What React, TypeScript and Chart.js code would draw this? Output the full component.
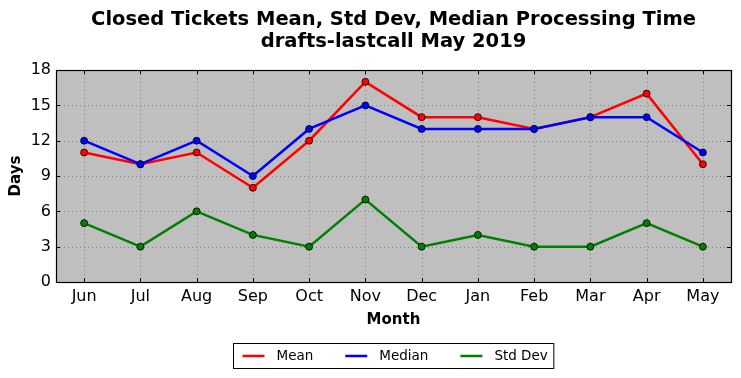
import React, { useEffect, useRef } from "react";
import { Chart, registerables } from "chart.js";

Chart.register(...registerables);

const months = ["Jun", "Jul", "Aug", "Sep", "Oct", "Nov", "Dec", "Jan", "Feb", "Mar", "Apr", "May"];
const meanDays = [11, 10, 11, 8, 12, 17, 14, 14, 13, 14, 16, 10];
const medianDays = [12, 10, 12, 9, 13, 15, 13, 13, 13, 14, 14, 11];
const stdDevDays = [5, 3, 6, 4, 3, 7, 3, 4, 3, 3, 5, 3];
const yTicks = [0, 3, 6, 9, 12, 15, 18];
const titleLines = ["Closed Tickets Mean, Std Dev, Median Processing Time", "drafts-lastcall May 2019"];
const seriesNames = ["Mean", "Median", "Std Dev"];
const seriesColors = ["#ff0000", "#0000ff", "#008000"];

const FONT = "'DejaVu Sans', 'Liberation Sans', sans-serif";

const framePlugin = {
  id: "frame",
  beforeDraw(chart: any) {
    const { ctx, chartArea } = chart;
    const { left, top, right, bottom } = chartArea;
    ctx.save();
    ctx.fillStyle = "#bfbfbf";
    ctx.fillRect(left, top, right - left, bottom - top);
    ctx.restore();
  },
  beforeDatasetsDraw(chart: any) {
    const { ctx, chartArea, scales } = chart;
    const { left, top, right, bottom } = chartArea;
    ctx.save();
    ctx.strokeStyle = "#808080";
    ctx.lineWidth = 1;
    ctx.setLineDash([1, 3]);
    months.forEach((_, i) => {
      const x = Math.round(scales.x.getPixelForValue(i)) + 0.5;
      ctx.beginPath();
      ctx.moveTo(x, top);
      ctx.lineTo(x, bottom);
      ctx.stroke();
    });
    yTicks.forEach((v) => {
      const y = Math.round(scales.y.getPixelForValue(v)) + 0.5;
      ctx.beginPath();
      ctx.moveTo(left, y);
      ctx.lineTo(right, y);
      ctx.stroke();
    });
    ctx.restore();
  },
  afterDraw(chart: any) {
    const { ctx, chartArea, scales } = chart;
    const { left, top, right, bottom } = chartArea;
    ctx.save();
    // inward tick marks
    ctx.strokeStyle = "#000";
    ctx.lineWidth = 1;
    ctx.setLineDash([]);
    const tl = 4;
    months.forEach((_, i) => {
      const x = Math.round(scales.x.getPixelForValue(i)) + 0.5;
      ctx.beginPath();
      ctx.moveTo(x, bottom);
      ctx.lineTo(x, bottom - tl);
      ctx.moveTo(x, top);
      ctx.lineTo(x, top + tl);
      ctx.stroke();
    });
    yTicks.forEach((v) => {
      const y = Math.round(scales.y.getPixelForValue(v)) + 0.5;
      ctx.beginPath();
      ctx.moveTo(left, y);
      ctx.lineTo(left + tl, y);
      ctx.moveTo(right, y);
      ctx.lineTo(right - tl, y);
      ctx.stroke();
    });
    // frame
    ctx.lineWidth = 1.2;
    ctx.strokeRect(Math.round(left) + 0.5, Math.round(top) + 0.5, Math.round(right - left), Math.round(bottom - top));

    // legend
    ctx.font = `13.5px ${FONT}`;
    const lineLen = 22;
    const gapAfterLine = 12;
    const gapBetween = 32;
    const padL = 9;
    const padR = 6;
    const widths = seriesNames.map((n) => ctx.measureText(n).width);
    let total = padL + padR;
    widths.forEach((w, i) => {
      total += lineLen + gapAfterLine + w + (i < widths.length - 1 ? gapBetween : 0);
    });
    const cx = (left + right) / 2;
    const bx = Math.round(cx - total / 2) + 0.5;
    const by = chart.height - 35 + 0.5;
    const bh = 25;
    ctx.fillStyle = "#fff";
    ctx.fillRect(bx, by, total, bh);
    ctx.strokeStyle = "#000";
    ctx.lineWidth = 1;
    ctx.strokeRect(bx, by, total, bh);
    let x = bx + padL;
    const cy = by + bh / 2;
    ctx.textBaseline = "middle";
    ctx.textAlign = "left";
    seriesNames.forEach((n, i) => {
      ctx.strokeStyle = seriesColors[i];
      ctx.lineWidth = 2.5;
      ctx.beginPath();
      ctx.moveTo(x, cy);
      ctx.lineTo(x + lineLen, cy);
      ctx.stroke();
      x += lineLen + gapAfterLine;
      ctx.fillStyle = "#000";
      ctx.fillText(n, x, cy + 0.5);
      x += widths[i] + gapBetween;
    });
    ctx.restore();
  },
};

export default function App() {
  const canvasRef = useRef<HTMLCanvasElement | null>(null);

  useEffect(() => {
    const canvas = canvasRef.current;
    if (!canvas) return;
    const mk = (label: string, data: number[], color: string, order: number) => ({
      label,
      data,
      borderColor: color,
      backgroundColor: color,
      pointBackgroundColor: color,
      pointBorderColor: "#000",
      pointBorderWidth: 0.8,
      pointRadius: 3.5,
      borderWidth: 2.5,
      tension: 0,
      fill: false,
      order,
    });
    const chart = new Chart(canvas, {
      type: "line",
      data: {
        labels: months,
        datasets: [
          mk(seriesNames[0], meanDays, seriesColors[0], 3),
          mk(seriesNames[1], medianDays, seriesColors[1], 2),
          mk(seriesNames[2], stdDevDays, seriesColors[2], 1),
        ],
      },
      options: {
        animation: false,
        responsive: false,
        maintainAspectRatio: false,
        layout: { padding: { left: 0, right: 10, top: 0, bottom: 45.6 } },
        plugins: {
          legend: { display: false },
          tooltip: { enabled: false },
          title: {
            display: true,
            fullSize: false,
            text: titleLines,
            color: "#000",
            font: { family: FONT, size: 19.5, weight: "bold", lineHeight: 1.13 },
            padding: { top: 9, bottom: 17 },
          },
        },
        scales: {
          x: {
            type: "category",
            offset: true,
            grid: { display: false, drawTicks: false },
            border: { display: false },
            ticks: { color: "#000", font: { family: FONT, size: 16 }, padding: 5, maxRotation: 0, autoSkip: false },
            title: {
              display: true,
              text: "Month",
              color: "#000",
              font: { family: FONT, size: 15, weight: "bold" },
              padding: { top: 0, bottom: 3 },
            },
            afterFit: (s: any) => {
              s.height = 50.4;
            },
          },
          y: {
            min: 0,
            max: 18,
            grid: { display: false, drawTicks: false },
            border: { display: false },
            ticks: { stepSize: 3, color: "#000", font: { family: FONT, size: 16 }, padding: 5 },
            title: {
              display: true,
              text: "Days",
              color: "#000",
              font: { family: FONT, size: 15, weight: "bold" },
              padding: { top: 7, bottom: 0 },
            },
            afterFit: (s: any) => {
              s.width = 56;
            },
          },
        },
      },
      plugins: [framePlugin],
    } as any);
    return () => chart.destroy();
  }, []);

  return (
    <div style={{ position: "fixed", left: 0, top: 0, width: 741, height: 378, background: "#fff" }}>
      <canvas ref={canvasRef} width={741} height={378} style={{ display: "block", width: 741, height: 378 }} />
    </div>
  );
}
